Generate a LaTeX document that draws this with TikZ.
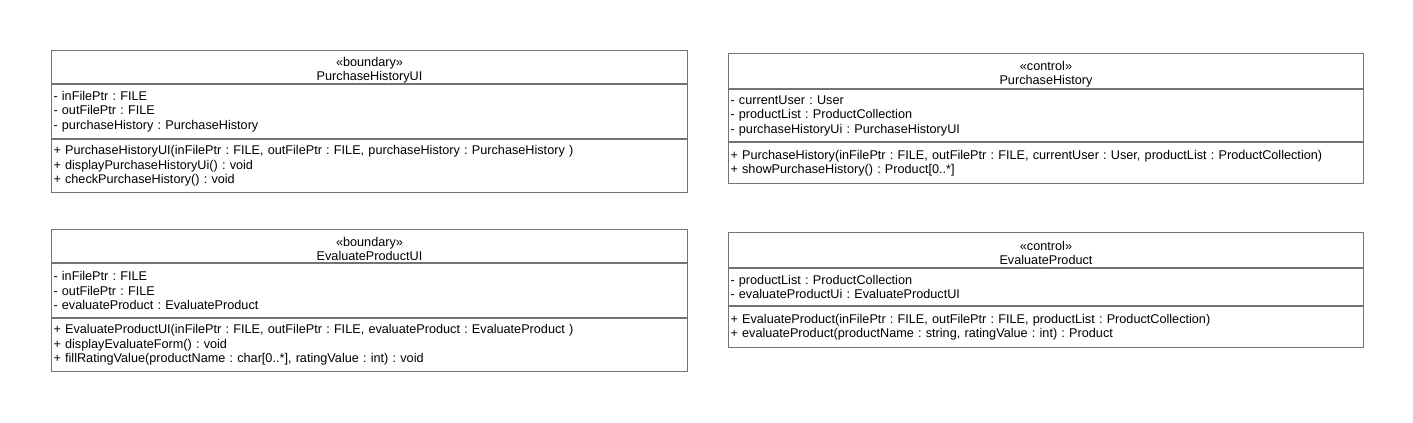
\documentclass[tikz,border=0pt]{standalone}
\usepackage{fontspec}
\setmainfont{Liberation Sans}
\usetikzlibrary{positioning}
\frenchspacing

\newcommand{\pxu}{0.75pt}
\tikzset{
	compart/.style={draw=black!55,line width=\pxu,rectangle,anchor=north west,
		inner xsep=2*\pxu,inner ysep=0pt,
		font=\fontsize{9.5}{10.9}\selectfont},
	headbox/.style={compart,align=center,text width=#1,
		execute at begin node=\rule{0pt}{11.5pt}},
	membox/.style={compart,align=left,text width=#1}
}

\begin{document}
\begin{tikzpicture}[x=\pxu,y=-\pxu]
	\useasboundingbox (0,0) rectangle (1413,422);

	% PurchaseHistoryUI
	\node[headbox=632*\pxu,minimum height=33*\pxu] (phuiHead) at (51,50) {«boundary»\\PurchaseHistoryUI};
	\node[membox=632*\pxu,minimum height=54*\pxu] (phuiAttr) at (phuiHead.south west) {- inFilePtr : FILE\\- outFilePtr : FILE\\- purchaseHistory : PurchaseHistory};
	\node[membox=632*\pxu,minimum height=53*\pxu] (phuiOper) at (phuiAttr.south west) {+ PurchaseHistoryUI(inFilePtr : FILE, outFilePtr : FILE, purchaseHistory : PurchaseHistory )\\+ displayPurchaseHistoryUi() : void\\+ checkPurchaseHistory() : void};

	% PurchaseHistory
	\node[headbox=631*\pxu,minimum height=35*\pxu] (phHead) at (728,53) {«control»\\PurchaseHistory};
	\node[membox=631*\pxu,minimum height=52*\pxu] (phAttr) at (phHead.south west) {- currentUser : User\\- productList : ProductCollection\\- purchaseHistoryUi : PurchaseHistoryUI};
	\node[membox=631*\pxu,minimum height=41*\pxu] (phOper) at (phAttr.south west) {+ PurchaseHistory(inFilePtr : FILE, outFilePtr : FILE, currentUser : User, productList : ProductCollection)\\+ showPurchaseHistory() : Product[0..*]};

	% EvaluateProductUI
	\node[headbox=632*\pxu,minimum height=33*\pxu] (epuiHead) at (51,229) {«boundary»\\EvaluateProductUI};
	\node[membox=632*\pxu,minimum height=54*\pxu] (epuiAttr) at (epuiHead.south west) {- inFilePtr : FILE\\- outFilePtr : FILE\\- evaluateProduct : EvaluateProduct};
	\node[membox=632*\pxu,minimum height=53*\pxu] (epuiOper) at (epuiAttr.south west) {+ EvaluateProductUI(inFilePtr : FILE, outFilePtr : FILE, evaluateProduct : EvaluateProduct )\\+ displayEvaluateForm() : void\\+ fillRatingValue(productName : char[0..*], ratingValue : int) : void};

	% EvaluateProduct
	\node[headbox=631*\pxu,minimum height=35*\pxu] (epHead) at (728,232) {«control»\\EvaluateProduct};
	\node[membox=631*\pxu,minimum height=37*\pxu] (epAttr) at (epHead.south west) {- productList : ProductCollection\\- evaluateProductUi : EvaluateProductUI};
	\node[membox=631*\pxu,minimum height=41*\pxu] (epOper) at (epAttr.south west) {+ EvaluateProduct(inFilePtr : FILE, outFilePtr : FILE, productList : ProductCollection)\\+ evaluateProduct(productName : string, ratingValue : int) : Product};
\end{tikzpicture}
\end{document}
